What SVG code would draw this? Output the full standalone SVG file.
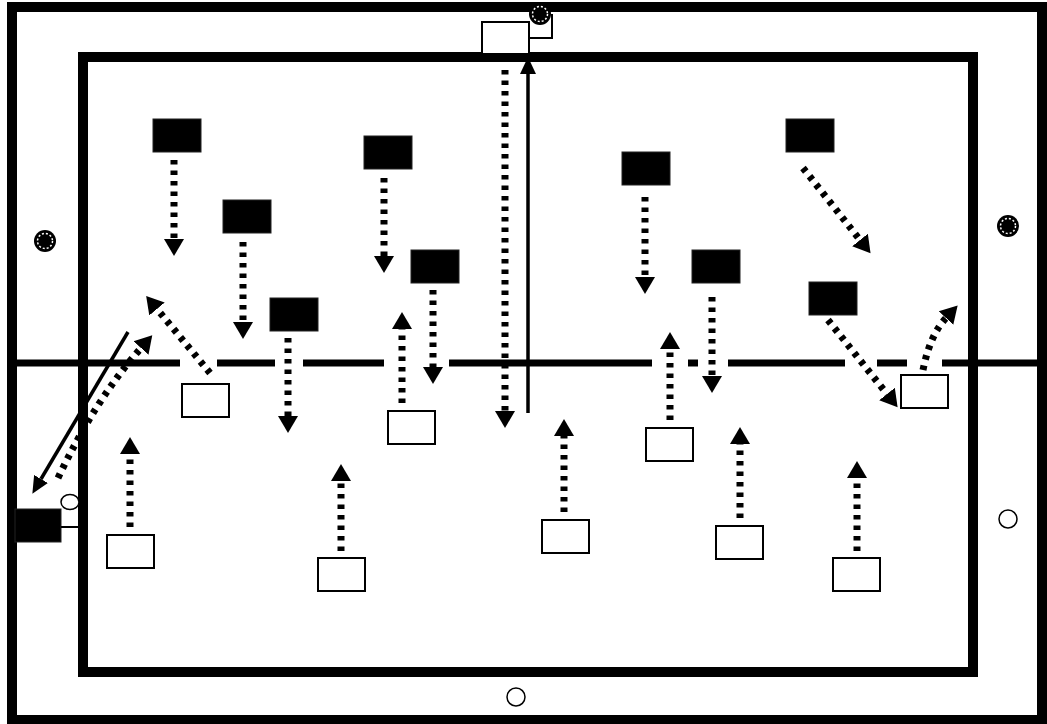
<svg xmlns="http://www.w3.org/2000/svg" width="1047" height="724" viewBox="0 0 1047 724">
  <style>
    .field { fill: none; stroke: #000; stroke-width: 10; }
    .half { stroke: #000; stroke-width: 7; }
    .run { fill: none; stroke: #000; stroke-width: 7; stroke-dasharray: 4.5 6; marker-end: url(#dotHead); }
    .pass { fill: none; stroke: #000; stroke-width: 3.5; marker-end: url(#solidHead); }
    .blk { fill: #000; stroke: #222; stroke-width: 1; }
    .wht { fill: #fff; stroke: #000; stroke-width: 2; }
    .thin { fill: none; stroke: #000; stroke-width: 2; }
    .ring { fill: #fff; stroke: #000; stroke-width: 1.5; }
    .ball { fill: #000; }
    .seam { fill: none; stroke: #fff; stroke-width: 1.5; stroke-dasharray: 2 2; }
  </style>
  <defs>
    <marker id="dotHead" markerUnits="userSpaceOnUse" markerWidth="18" markerHeight="22" viewBox="0 0 18 22" refX="0" refY="11" orient="auto">
      <path d="M0,1 L17,11 L0,21 z" fill="#000"/>
    </marker>
    <marker id="solidHead" markerUnits="userSpaceOnUse" markerWidth="18" markerHeight="18" viewBox="0 0 18 18" refX="0" refY="9" orient="auto">
      <path d="M0,1 L17,9 L0,17 z" fill="#000"/>
    </marker>
  </defs>

  <rect width="1047" height="724" fill="#fff"/>

  <!-- pitch outline -->
  <g id="pitch">
    <rect class="field" x="12" y="7" width="1030" height="713"/>
    <rect class="field" x="83" y="57" width="890" height="615"/>
    <!-- halfway line, broken where runs cross it -->
    <line class="half" x1="15" y1="363" x2="180" y2="363"/>
    <line class="half" x1="217" y1="363" x2="275" y2="363"/>
    <line class="half" x1="303" y1="363" x2="384" y2="363"/>
    <line class="half" x1="449" y1="363" x2="652" y2="363"/>
    <line class="half" x1="688" y1="363" x2="698" y2="363"/>
    <line class="half" x1="728" y1="363" x2="845" y2="363"/>
    <line class="half" x1="877" y1="363" x2="907" y2="363"/>
    <line class="half" x1="942" y1="363" x2="1040" y2="363"/>
  </g>

  <!-- runs and passes -->
  <g id="connectors">
    <path class="run" d="M174,160 V239"/>
    <path class="run" d="M243,242 V322"/>
    <path class="run" d="M288,338 V416"/>
    <path class="run" d="M384,178 V256"/>
    <path class="run" d="M433,290 V367"/>
    <path class="run" d="M645,197 V277"/>
    <path class="run" d="M712,297 V376"/>
    <path class="run" d="M505,70 V411"/>
    <path class="run" d="M803,168 L860,240"/>
    <path class="run" d="M828,320 L887,394"/>
    <path class="run" d="M923,370 Q930,335 946,318"/>

    <path class="run" d="M402,403 V329"/>
    <path class="run" d="M130,527 V454"/>
    <path class="run" d="M341,551 V481"/>
    <path class="run" d="M564,512 V436"/>
    <path class="run" d="M670,420 V349"/>
    <path class="run" d="M740,518 V444"/>
    <path class="run" d="M857,551 V478"/>
    <path class="run" d="M210,373 L157,309"/>
    <path class="run" d="M58,478 Q95,400 141,348"/>

    <path class="pass" d="M528,413 V74"/>
    <path class="pass" d="M128,332 L41,479"/>
  </g>

  <!-- defenders -->
  <g id="defender-1"><rect class="blk" x="153" y="119" width="48" height="33"/></g>
  <g id="defender-2"><rect class="blk" x="223" y="200" width="48" height="33"/></g>
  <g id="defender-3"><rect class="blk" x="270" y="298" width="48" height="33"/></g>
  <g id="defender-4"><rect class="blk" x="364" y="136" width="48" height="33"/></g>
  <g id="defender-5"><rect class="blk" x="411" y="250" width="48" height="33"/></g>
  <g id="defender-6"><rect class="blk" x="622" y="152" width="48" height="33"/></g>
  <g id="defender-7"><rect class="blk" x="692" y="250" width="48" height="33"/></g>
  <g id="defender-8"><rect class="blk" x="786" y="119" width="48" height="33"/></g>
  <g id="defender-9"><rect class="blk" x="809" y="282" width="48" height="33"/></g>
  <g id="defender-server">
    <rect class="blk" x="15" y="509" width="46" height="33"/>
    <line class="thin" x1="61" y1="527" x2="80" y2="527"/>
  </g>

  <!-- attackers -->
  <g id="attacker-1"><rect class="wht" x="182" y="384" width="47" height="33"/></g>
  <g id="attacker-2"><rect class="wht" x="107" y="535" width="47" height="33"/></g>
  <g id="attacker-3"><rect class="wht" x="318" y="558" width="47" height="33"/></g>
  <g id="attacker-4"><rect class="wht" x="388" y="411" width="47" height="33"/></g>
  <g id="attacker-5"><rect class="wht" x="542" y="520" width="47" height="33"/></g>
  <g id="attacker-6"><rect class="wht" x="646" y="428" width="47" height="33"/></g>
  <g id="attacker-7"><rect class="wht" x="716" y="526" width="47" height="33"/></g>
  <g id="attacker-8"><rect class="wht" x="833" y="558" width="47" height="33"/></g>
  <g id="attacker-9"><rect class="wht" x="901" y="375" width="47" height="33"/></g>
  <g id="attacker-server">
    <rect class="wht" x="482" y="22" width="47" height="32"/>
    <polyline class="thin" points="529,38 552,38 552,14"/>
  </g>

  <!-- balls -->
  <g id="ball-top"><circle class="ball" cx="540" cy="14" r="11"/><circle class="seam" cx="540" cy="14" r="7.5"/></g>
  <g id="ball-left"><circle class="ball" cx="45" cy="241" r="11"/><circle class="seam" cx="45" cy="241" r="7.5"/></g>
  <g id="ball-right"><circle class="ball" cx="1008" cy="226" r="11"/><circle class="seam" cx="1008" cy="226" r="7.5"/></g>

  <!-- cones -->
  <g id="cone-left"><ellipse class="ring" cx="70" cy="502" rx="9" ry="7.5"/></g>
  <g id="cone-right"><circle class="ring" cx="1008" cy="519" r="9"/></g>
  <g id="cone-bottom"><circle class="ring" cx="516" cy="697" r="9"/></g>
</svg>
